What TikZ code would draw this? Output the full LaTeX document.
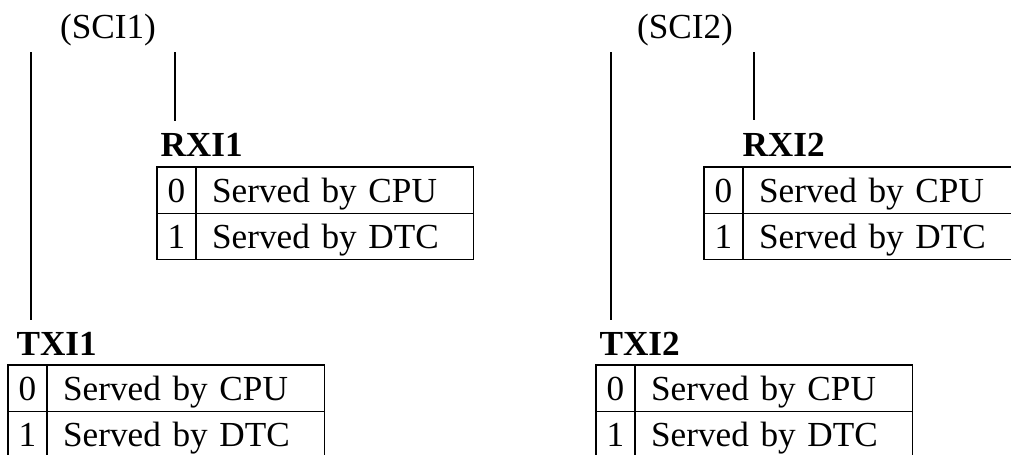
\documentclass[tikz,border=0pt]{standalone}
\usepackage{fontspec}
\setmainfont{Liberation Serif}
\usetikzlibrary{positioning}

\begin{document}
\begin{tikzpicture}[
    % Global Styles
    x=0.341pt, y=-0.341pt,
    font=\fontsize{12}{14}\selectfont,
    node distance=0pt,
    % Table cells
    numcell/.style={draw, line width=0.35pt, outer sep=0pt, inner sep=0pt,
        minimum width=13.3pt, minimum height=15.7pt,
        text height=8.2pt, text depth=0pt, align=center},
    txtcell/.style={draw, line width=0.35pt, outer sep=0pt,
        inner xsep=5.5pt, inner ysep=0pt, text width=83.5pt,
        minimum height=15.7pt, text height=8.2pt, text depth=0pt, align=left},
    % Labels
    regname/.style={anchor=base west, inner sep=0pt, font=\fontsize{12}{14}\selectfont\bfseries},
    chname/.style={anchor=base, inner sep=0pt},
    % Signal lines
    link/.style={line width=0.35pt}
]

    % --- Frame ---
    \useasboundingbox (0,0) rectangle (1011,454);
    \clip (0,0) rectangle (1011,454);

    % --- Channel names ---
    \node[chname] (sci1) at (108,38) {(SCI1)};
    \node[chname] (sci2) at (685,38) {(SCI2)};

    % --- Line end points ---
    \coordinate (tx1top) at (31,52);
    \coordinate (tx1bot) at (31,320);
    \coordinate (rx1top) at (175,52);
    \coordinate (rx1bot) at (175,121);
    \coordinate (tx2top) at (611,52);
    \coordinate (tx2bot) at (611,320);
    \coordinate (rx2top) at (754,52);
    \coordinate (rx2bot) at (754,120);

    % --- SCI1: RXI1 ---
    \node[regname] (rxi1) at (160,156) {RXI1};
    \node[numcell, anchor=north west] (rx1n0) at (157,167) {0};
    \node[txtcell, right=of rx1n0] (rx1t0) {Served by CPU};
    \node[numcell, below=of rx1n0] (rx1n1) {1};
    \node[txtcell, right=of rx1n1] (rx1t1) {Served by DTC};

    % --- SCI1: TXI1 ---
    \node[regname] (txi1) at (16,355) {TXI1};
    \node[numcell, anchor=north west] (tx1n0) at (8,365) {0};
    \node[txtcell, right=of tx1n0] (tx1t0) {Served by CPU};
    \node[numcell, below=of tx1n0] (tx1n1) {1};
    \node[txtcell, right=of tx1n1] (tx1t1) {Served by DTC};

    % --- SCI2: RXI2 ---
    \node[regname] (rxi2) at (742,156) {RXI2};
    \node[numcell, anchor=north west] (rx2n0) at (704,167) {0};
    \node[txtcell, right=of rx2n0] (rx2t0) {Served by CPU};
    \node[numcell, below=of rx2n0] (rx2n1) {1};
    \node[txtcell, right=of rx2n1] (rx2t1) {Served by DTC};

    % --- SCI2: TXI2 ---
    \node[regname] (txi2) at (599,355) {TXI2};
    \node[numcell, anchor=north west] (tx2n0) at (596,365) {0};
    \node[txtcell, right=of tx2n0] (tx2t0) {Served by CPU};
    \node[numcell, below=of tx2n0] (tx2n1) {1};
    \node[txtcell, right=of tx2n1] (tx2t1) {Served by DTC};

    % --- Lines from the channels ---
    \draw[link] (tx1top) -- (tx1bot);
    \draw[link] (rx1top) -- (rx1bot);
    \draw[link] (tx2top) -- (tx2bot);
    \draw[link] (rx2top) -- (rx2bot);

\end{tikzpicture}
\end{document}
